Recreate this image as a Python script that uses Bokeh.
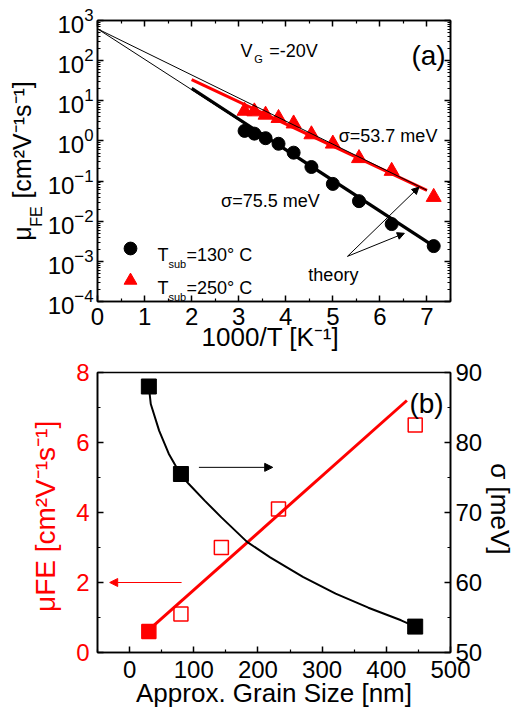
import math
from bokeh.plotting import figure
from bokeh.models import (FixedTicker, LogTickFormatter, LogAxis, LinearAxis, Range1d, Label,
                          Arrow, NormalHead, Legend, LegendItem, CustomJSTickFormatter)
from bokeh.layouts import column
from bokeh.embed import file_html
from bokeh.resources import INLINE

FONT = "Liberation Sans"
RED = "#ff0000"
NB = "\u00a0"

# ---------------- panel (a) data ----------------
inv_T = [3.125, 3.333, 3.571, 3.846, 4.167, 4.545, 5.0, 5.556, 6.25, 7.143]
mu_130 = [1.78, 1.52, 1.17, 0.85, 0.51, 0.224, 0.085, 0.0316, 0.0085, 0.0024]
mu_250 = [5.6, 5.4, 4.47, 3.7, 2.7, 1.45, 0.85, 0.37, 0.178, 0.04]
theory_130_x = [2.0, 7.143]
theory_130_y = [20.4, 0.0024]
theory_250_x = [2.0, 7.0]
theory_250_y = [33.5, 0.059]
extrap_130_x = [0.0, 7.143]
extrap_130_y = [620.0, 0.0024]
extrap_250_x = [0.0, 7.0]
extrap_250_y = [620.0, 0.059]
theory_arrow_start = (5.31, 0.00133)
theory_arrow_ends = [(6.83, 0.0708), (6.52, 0.005)]
xticks_a = [0, 1, 2, 3, 4, 5, 6, 7]
xminor_a = [0.5, 1.5, 2.5, 3.5, 4.5, 5.5, 6.5, 7.5]
yticks_a = [1e-4, 1e-3, 1e-2, 1e-1, 1e0, 1e1, 1e2, 1e3]
yminor_a = [m * 10.0 ** e for e in range(-4, 3) for m in range(2, 10)]

# ---------------- panel (b) data ----------------
grain_mu = [30, 80, 143, 232, 445]
mu_fe = [0.6, 1.1, 3.0, 4.1, 6.5]
mu_fe_fill = [1, 0, 0, 0, 0]
grain_sigma = [30, 80, 445]
sigma_vals = [88.0, 75.5, 53.7]
fit_mu_x = [26, 432]
fit_mu_y = [0.58, 7.2]
curve_grain = [30, 33, 46, 61, 79, 92, 117, 143, 183, 219, 270, 321, 372, 423, 445]
curve_sigma = [88.0, 85.5, 81.7, 78.4, 75.5, 74.1, 71.7, 69.3, 65.8, 63.6, 60.8, 58.4, 56.4, 54.6, 53.7]
arrow_sigma = ((108, 5.29), (223, 5.29))
arrow_mu = ((81, 2.0), (-31, 2.0))
xticks_b = [0, 100, 200, 300, 400, 500]
xminor_b = [-50, 50, 150, 250, 350, 450]
yticks_b = [0, 2, 4, 6, 8]
yminor_b = [1, 3, 5, 7]
sticks_b = [50, 60, 70, 80, 90]
sminor_b = [55, 65, 75, 85]


def style_axis(ax, color="black", size="24px"):
    ax.axis_line_width = 1.6
    ax.axis_line_color = "black"
    ax.major_tick_in = 6
    ax.major_tick_out = 0
    ax.minor_tick_in = 3
    ax.minor_tick_out = 0
    ax.major_tick_line_width = 1.5
    ax.minor_tick_line_width = 1.2
    ax.major_tick_line_color = "black"
    ax.minor_tick_line_color = "black"
    ax.major_label_text_font = FONT
    ax.major_label_text_font_size = size
    ax.major_label_text_color = color
    ax.axis_label_text_font = FONT
    ax.axis_label_text_font_size = "26px"
    ax.axis_label_text_font_style = "normal"
    ax.axis_label_text_color = color


def blank_labels(ax):
    ax.formatter = CustomJSTickFormatter(code="return ''")
    ax.major_label_text_font_size = "0px"
    ax.major_label_standoff = 0


def title_axis(text, size, standoff, color="black"):
    """A left axis that only carries a (rotated) title text."""
    ax = LogAxis(ticker=FixedTicker(ticks=[]))
    ax.axis_line_color = None
    ax.major_tick_line_color = None
    ax.minor_tick_line_color = None
    ax.major_tick_in = 0
    ax.major_tick_out = 0
    ax.minor_tick_in = 0
    ax.minor_tick_out = 0
    ax.major_label_text_font_size = "0px"
    ax.major_label_standoff = 0
    ax.axis_label = text
    ax.axis_label_text_font = FONT
    ax.axis_label_text_font_size = size
    ax.axis_label_text_font_style = "normal"
    ax.axis_label_text_color = color
    ax.axis_label_standoff = standoff
    return ax


def plain(p):
    p.xgrid.visible = False
    p.ygrid.visible = False
    p.background_fill_color = "white"
    p.border_fill_color = "white"


def lab(p, x, y, text, size, color="black", units="data", align="left"):
    p.add_layout(Label(x=x, y=y, x_units=units, y_units=units, text=text,
                       text_font=FONT, text_font_size=size, text_color=color,
                       text_align=align, text_baseline="alphabetic"))


# ================= panel (a) =================
top = figure(width=518, height=357, x_range=Range1d(0, 7.5), y_range=Range1d(1e-4, 1e3),
             y_axis_type="log", output_backend="svg", toolbar_location=None,
             min_border_left=97, min_border_right=61, min_border_top=20, min_border_bottom=56)
plain(top)
top.outline_line_color = "black"
top.outline_line_width = 1.5

xa = top.xaxis[0]
style_axis(xa)
xa.ticker = FixedTicker(ticks=xticks_a, minor_ticks=xminor_a)
xa.major_label_standoff = 6
xa.axis_label = "1000/T  [K⁻¹]"
xa.axis_label_standoff = -6

ya = top.yaxis[0]
style_axis(ya)
ya.ticker = FixedTicker(ticks=yticks_a, minor_ticks=yminor_a)
ya.formatter = LogTickFormatter()
ya.major_label_standoff = 4

ax_top = LinearAxis(ticker=FixedTicker(ticks=xticks_a, minor_ticks=xminor_a))
style_axis(ax_top)
blank_labels(ax_top)
top.add_layout(ax_top, "above")
ax_right = LogAxis(ticker=FixedTicker(ticks=yticks_a, minor_ticks=yminor_a))
style_axis(ax_right)
blank_labels(ax_right)
top.add_layout(ax_right, "right")

# y title of panel (a): subscript "FE" sits nearer the frame than "μ ... [cm²V⁻¹s⁻¹]"
top.add_layout(title_axis("FE" + NB * 25, "16px", 0), "left")
top.add_layout(title_axis("μ" + NB * 4 + "[cm²V⁻¹s⁻¹]", "25px", -11), "left")

r_circ = top.scatter(inv_T, mu_130, marker="circle", size=13, color="black")
r_tri = top.scatter(inv_T, mu_250, marker="triangle", size=15, color=RED)
top.line(theory_250_x, theory_250_y, line_width=3, color=RED)
top.line(extrap_250_x, extrap_250_y, line_width=1, color="black")
top.line(extrap_130_x, extrap_130_y, line_width=1, color="black")
top.line(theory_130_x, theory_130_y, line_width=3.2, color="black")

for (xe, ye) in theory_arrow_ends:
    top.add_layout(Arrow(end=NormalHead(size=7, fill_color="black", line_color="black", line_width=1),
                         x_start=theory_arrow_start[0], y_start=theory_arrow_start[1],
                         x_end=xe, y_end=ye, line_width=1, line_color="black"))

legend = Legend(items=[LegendItem(label=" ", renderers=[r_circ]),
                       LegendItem(label=" ", renderers=[r_tri])],
                location=(17, 5), glyph_width=32, glyph_height=32, label_height=32,
                label_width=1, spacing=0, padding=0, margin=0, label_standoff=0,
                border_line_alpha=0, background_fill_alpha=0,
                label_text_font=FONT, label_text_font_size="18px")
top.add_layout(legend)

# legend texts (screen units relative to frame)
for dy, t in ((0, "=130° C"), (-33, "=250° C")):
    lab(top, 60, 47 + dy, "T", "18px", units="screen")
    lab(top, 71, 38 + dy, "sub", "11px", units="screen")
    lab(top, 89, 47 + dy, t, "18px", units="screen")

lab(top, 5.125, 1.33, "σ=53.7 meV", "18px")
lab(top, 2.625, 0.0316, "σ=75.5 meV", "18px")
lab(top, 4.48, 0.00047, "theory", "18px")
lab(top, 3.04, 178, "V", "18px")
lab(top, 3.33, 112, "G", "11px")
lab(top, 3.65, 178, "=-20V", "18px")
lab(top, 6.67, 133, "(a)", "28px")

# ================= panel (b) =================
bot = figure(width=518, height=357, x_range=Range1d(-50, 500), y_range=Range1d(0, 8),
             output_backend="svg", toolbar_location=None,
             min_border_left=97, min_border_right=61, min_border_top=15, min_border_bottom=62)
bot.extra_y_ranges = {"sigma": Range1d(50, 90)}
plain(bot)
bot.outline_line_color = "black"
bot.outline_line_width = 1.5

xb = bot.xaxis[0]
style_axis(xb)
xb.ticker = FixedTicker(ticks=xticks_b, minor_ticks=xminor_b)
xb.major_label_standoff = 8
xb.axis_label = "Approx. Grain Size [nm]"
xb.axis_label_standoff = -3

yb = bot.yaxis[0]
style_axis(yb, color=RED)
yb.axis_line_color = "black"
yb.ticker = FixedTicker(ticks=yticks_b, minor_ticks=yminor_b)
yb.major_label_standoff = 8
yb.axis_label = "μFE  [cm²V⁻¹s⁻¹]"
yb.axis_label_text_font_size = "28px"
yb.axis_label_standoff = 12

ax_sig = LinearAxis(y_range_name="sigma", ticker=FixedTicker(ticks=sticks_b, minor_ticks=sminor_b))
style_axis(ax_sig)
ax_sig.major_label_standoff = 5
ax_sig.axis_label = "σ  [meV]"
ax_sig.axis_label_standoff = 0
bot.add_layout(ax_sig, "right")

bot.line(fit_mu_x, fit_mu_y, line_width=3, color=RED)
bot.line(curve_grain, curve_sigma, y_range_name="sigma", line_width=2, color="black")
bot.scatter(grain_mu, mu_fe, marker="square", size=14, fill_color=RED, fill_alpha=mu_fe_fill,
            line_color=RED, line_width=1.5)
bot.scatter(grain_sigma, sigma_vals, marker="square", size=15, color="black", y_range_name="sigma")

bot.add_layout(Arrow(end=NormalHead(size=8, fill_color="black", line_color="black", line_width=1),
                     x_start=arrow_sigma[0][0], y_start=arrow_sigma[0][1],
                     x_end=arrow_sigma[1][0], y_end=arrow_sigma[1][1], line_width=1, line_color="black"))
bot.add_layout(Arrow(end=NormalHead(size=8, fill_color=RED, line_color=RED, line_width=1),
                     x_start=arrow_mu[0][0], y_start=arrow_mu[0][1],
                     x_end=arrow_mu[1][0], y_end=arrow_mu[1][1], line_width=1, line_color=RED))

lab(bot, 436, 7.11, "(b)", "28px")

layout = column(top, bot, spacing=0)
open("out.html", "w").write(file_html(layout, INLINE))
